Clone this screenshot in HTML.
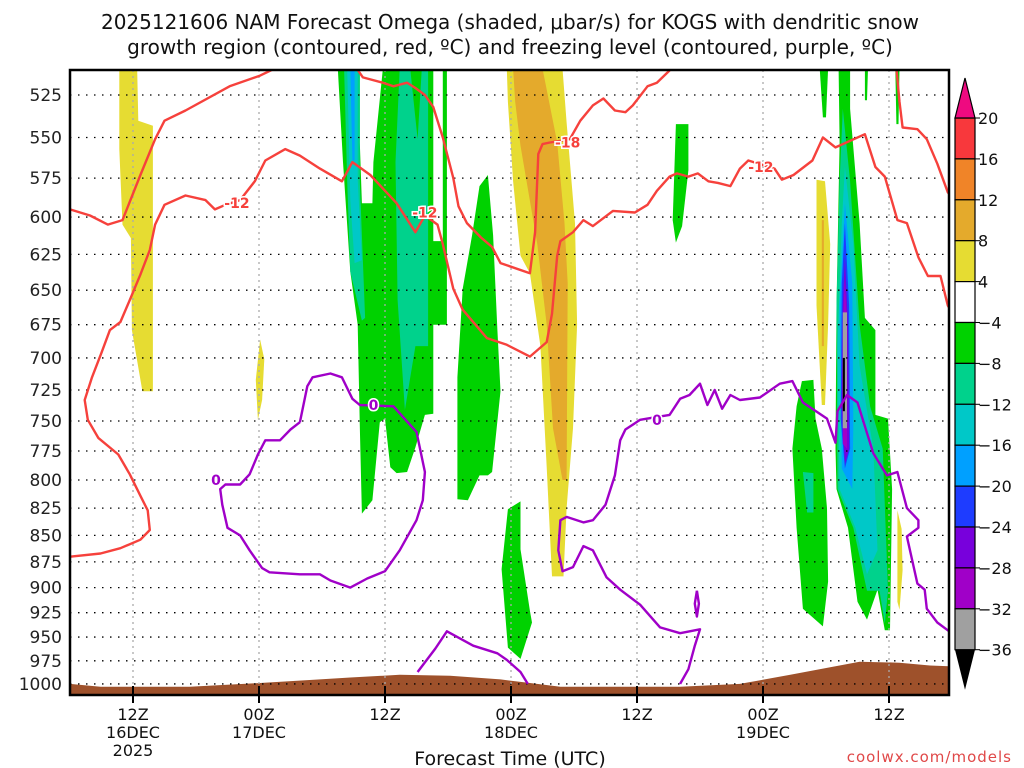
<!DOCTYPE html>
<html><head><meta charset="utf-8">
<style>
html,body{margin:0;padding:0;background:#fff;}
svg{display:block;font-family:"DejaVu Sans","Liberation Sans",sans-serif;}
</style></head>
<body>
<svg id="chart" width="1024" height="768" viewBox="0 0 1024 768">
<defs><clipPath id="plotclip"><rect x="70" y="70" width="879" height="625"/></clipPath></defs>
<text x="510" y="29" text-anchor="middle" font-size="20" fill="#111">2025121606 NAM Forecast Omega (shaded, μbar/s) for KOGS with dendritic snow</text>
<text x="510" y="54" text-anchor="middle" font-size="20" fill="#111">growth region (contoured, red, ºC) and freezing level (contoured, purple, ºC)</text>
<g id="plot" clip-path="url(#plotclip)"></g>
<g id="grid"></g>
<g id="lines" clip-path="url(#plotclip)"></g>
<rect x="70" y="70" width="879" height="625" fill="none" stroke="#000" stroke-width="2.5"/>
<g id="yaxis"></g>
<g id="xaxis"></g>
<g id="cbar"></g>
<text x="510" y="765" text-anchor="middle" font-size="19" fill="#111">Forecast Time (UTC)</text>
<text x="1012" y="762" text-anchor="end" font-size="15" fill="#e04848" letter-spacing="1">coolwx.com/models</text>
</svg>
<script>
// ---- data ----
const pressureTicks = [525,550,575,600,625,650,675,700,725,750,775,800,825,850,875,900,925,950,975,1000];
const timeTickHours = [6,18,30,42,54,66,78];
const timeTickLabels = [["12Z","16DEC","2025"],["00Z","17DEC"],["12Z"],["00Z","18DEC"],["12Z"],["00Z","19DEC"],["12Z"]];
const colorLevels = [20,16,12,8,4,-4,-8,-12,-16,-20,-24,-28,-32,-36];
const levelColors = ["#f8383c","#f08428","#e4aa2c","#e6dc32","#ffffff","#00d200","#00d28c","#00c8c8","#00a0ff","#1e3cff","#7800dc","#a000c8","#a0a0a0"];
const ground = [[0,1000],[2.9,1003],[11.4,1003],[18.1,999],[23.8,995],[26.7,993],[31.4,990],[36.2,991],[41,995],[43.8,999],[46.7,1003],[52.4,1003],[58.1,1003],[63.8,1000],[68.6,990],[72.4,982],[75.2,976],[79,977],[81.9,980],[84,981]];
// shaded omega regions: [colour key, polygon in (forecast hour, hPa)]
const shadeKeys = ["y","y","g","w","w","t","c","b","t","g","g","y","o","g","g","g","g","g","t","c","b","bl","pu","vi","gr","bk","g","t","y","o","y"];
const shadePolys = [
 [[4.7,511],[6.4,511],[6.5,540],[7.9,543],[7.9,726],[6.9,726],[5.9,679],[5.8,614],[5,605],[4.7,557]],
 [[18.1,686],[18.5,701],[18.3,733],[17.9,749],[17.7,717]],
 [[25.5,510],[26,565],[26.7,637],[27.4,675],[27.6,754],[27.8,830],[28.8,818],[29.5,751],[30,748],[30.5,789],[31.1,794],[32.1,793],[32.9,772],[33.8,745],[34.6,744],[34.6,675],[35.9,675],[35.9,510]],
 [[27.6,510],[29.8,510],[28.9,565],[28.8,591],[27.8,591],[27.6,553]],
 [[34.6,510],[35.5,510],[35.5,616],[34.6,616]],
 [[26.1,510],[27.6,510],[27.6,577],[28.1,670],[27.8,672],[26.7,637],[26.4,577]],
 [[26.4,510],[27.4,510],[27.4,576],[27.8,629],[27.1,631],[26.7,589]],
 [[26.7,510],[27.1,510],[27.1,564],[26.9,564]],
 [[31.4,510],[32.4,510],[33.1,551],[33.5,510],[34.1,510],[34.1,691],[32.9,691],[31.9,741],[31.2,657],[31,565]],
 [[39.8,573],[40.3,612],[40.7,679],[41,726],[40.2,793],[39.8,796],[39,796],[37.9,818],[36.9,817],[36.9,715],[37.4,649],[38.3,612],[39,580]],
 [[42.9,819],[42.9,863],[43.8,923],[44,935],[42.9,973],[41.7,961],[41.1,882],[41.7,826]],
 [[41.6,510],[46.9,510],[47.3,541],[48.1,604],[48.3,675],[47.9,756],[47.3,825],[47,889],[45.9,889],[45.4,789],[44.8,691],[43.8,638],[42.9,626],[42.2,577],[41.7,529]],
 [[42.2,510],[45,510],[46.4,553],[47.1,604],[47.4,645],[47.3,800],[46.9,800],[46,756],[45.4,675],[44.5,618],[42.9,555],[42.4,529]],
 [[57.7,542],[58.9,542],[58.9,570],[58.3,606],[57.7,617],[57.4,602]],
 [[71.4,510],[72.2,510],[72,538],[71.7,538]],
 [[75.7,510],[76,510],[75.9,528],[75.7,528]],
 [[78.6,510],[79,510],[78.9,542],[78.7,542]],
 [[73.2,510],[74.3,510],[74.3,533],[75.2,604],[75.7,670],[76.7,679],[76.7,745],[77.9,748],[78.3,808],[78.1,943],[77.6,943],[76.9,902],[75.9,932],[75,914],[74.1,843],[73,808],[72.9,773],[73,661],[73.3,553]],
 [[73.6,533],[74.3,577],[75.2,675],[76.2,738],[77.4,773],[77.9,903],[77.6,936],[77.1,903],[75.9,903],[74.6,843],[73.1,808],[73,661],[73.3,577]],
 [[73.8,568],[74.6,618],[75.2,706],[76.5,773],[76.9,864],[75.9,887],[74.8,843],[73.3,808],[73.1,691],[73.5,604]],
 [[73.8,591],[74.5,645],[74.6,756],[74.5,808],[73.5,790],[73.3,661]],
 [[73.8,604],[74.2,661],[74.3,773],[73.8,790],[73.4,748],[73.5,645]],
 [[73.8,626],[74.1,675],[74.2,773],[73.8,786],[73.5,738],[73.6,661]],
 [[73.8,643],[74,675],[74,773],[73.6,769],[73.6,675]],
 [[73.6,666],[74,666],[74,756],[73.6,756]],
 [[73.6,700],[73.8,700],[73.8,742],[73.6,742]],
 [[69.7,718],[70.8,717],[71,748],[71.6,773],[72.1,825],[72.2,894],[71.7,939],[69.8,921],[69.2,843],[68.8,773],[69.2,738]],
 [[69.8,793],[70.8,794],[70.8,829],[70.2,829]],
 [[71.1,576],[71.9,577],[72.4,618],[72.2,675],[71.9,737],[71.6,737],[71.1,661]],
 [[71.6,602],[71.8,602],[71.8,691],[71.6,691]],
 [[78.8,827],[79.2,844],[79.3,883],[79,922],[78.8,914]]
];
const shadeColorMap = {y:"#e6dc32",o:"#e4aa2c",g:"#00d200",t:"#00d28c",c:"#00c8c8",b:"#00a0ff",bl:"#1e3cff",pu:"#7800dc",vi:"#a000c8",gr:"#a0a0a0",bk:"#000000",w:"#ffffff"};
// temperature contours (red)
const redLineA = [[0,595],[1.9,599],[3.6,605],[5,602],[6.7,573],[8.1,551],[9,540],[11,534],[15.2,520],[18.1,514],[19.5,510]];
const redLineB = [[0,870],[2.9,867],[4.8,862],[6.7,854],[7.6,845],[7.4,827],[6.7,814],[5.7,795],[4.6,778],[2.7,764],[1.7,749],[1.4,733],[2.1,715],[3,696],[3.8,679],[4.8,673],[5.7,657],[6.7,639],[7.6,622],[8.1,605],[9,592],[11,586],[12.9,589],[13.8,595],[14.8,592],[16.2,589],[17.6,577],[18.6,564],[20.5,557],[21.9,561],[23.8,569],[25.9,577],[26.9,565],[28.6,573],[31.1,591],[32.9,610],[33.8,599],[35,605],[35.5,618],[36.5,649],[37.4,664],[39.7,685],[41.6,690],[43.8,699],[45.4,688],[45.9,667],[46.4,626],[46.7,616],[47.9,610],[48.9,602],[49.8,606],[51.7,596],[53.8,597],[55,592],[55.9,583],[57.1,574],[57.8,572],[58.9,574],[59.8,572],[60.8,577],[61.7,578],[62.9,580],[63.8,569],[64.6,564],[67.1,569],[67.8,576],[68.9,573],[70.7,564],[71.7,550],[72.9,556],[75.7,548],[76.7,568],[77.6,574],[78.8,602],[79.7,604],[80.8,627],[81.7,640],[82.9,640],[83.6,661],[84,666]];
const redLineC = [[23.8,510],[27.3,510],[27.9,515],[29.8,518],[30.8,520],[32.1,518],[32.9,521],[33.8,525],[34.6,532],[35.5,550],[36.5,575],[37,593],[37.8,604],[39.2,614],[40.2,620],[41,631],[43.8,638],[44.3,610],[44.6,560],[45,554],[45.7,553],[47.6,551],[48.6,540],[49.8,531],[50.8,527],[51.9,534],[52.9,535],[53.6,531],[55,520],[55.9,518],[57.3,510]];
const redLineD = [[78.7,510],[79,529],[79.3,544],[80.7,545],[81.6,551],[82.6,566],[83.6,584],[84,587]];
const redLabels = [["-12",15.9,591],["-12",33.8,597],["-18",47.4,553],["-12",65.8,568]];
// freezing level (purple)
const purpleLoop = [[21.9,751],[22.6,722],[23.1,715],[24.8,712],[25.9,715],[26.9,732],[27.6,737],[30.8,738],[33,759],[33.8,793],[33.6,818],[33,836],[31.4,864],[30,884],[28.3,891],[26.7,900],[24.8,893],[23.8,887],[21.9,887],[19,885],[18.3,881],[17.1,864],[16.2,850],[15,843],[14.5,822],[14.3,808],[14.8,804],[16.2,804],[17.1,795],[17.9,778],[18.6,766],[20,766],[21,757],[21.9,751]];
const purpleLow = [[33.1,987],[34.8,962],[35.9,944],[38.4,959],[40.7,967],[41.6,974],[42.9,987],[43.6,1000]];
const purpleRight = [[58.1,1000],[58.9,984],[59.5,959],[60,942],[58.1,946],[56.2,940],[54.3,917],[52.4,902],[51.1,890],[49.8,864],[48.9,860],[47.9,880],[46.9,884],[46.5,864],[46.7,836],[47.3,833],[48.9,838],[49.8,836],[51,822],[51.9,796],[52.4,766],[52.9,757],[54.3,749],[55.7,747],[57.1,745],[58.1,732],[59,729],[60,720],[60.7,737],[61.4,725],[62.1,740],[62.9,729],[63.8,733],[65.7,731],[67.6,720],[68.8,718],[69.8,735],[72.1,748],[72.9,768],[73.1,742],[74,729],[75,735],[76.5,777],[77.8,796],[78.8,793],[79.7,825],[80.8,836],[80.8,843],[79.7,851],[80.7,896],[81.4,902],[81.6,921],[82.6,935],[83.6,943],[84,946]];
const purpleSmall = [[59.7,903],[59.9,916],[59.7,929],[59.5,916],[59.7,903]];
const purpleLabels = [["0",13.9,800],["0",28.9,737],["0",55.9,749]];

// ---- scales ----
const X = h => 70 + h*10.5;
const Y = p => 95 + 914*Math.log(p/525);
const NS = "http://www.w3.org/2000/svg";
function mk(tag, attrs, parent){const e=document.createElementNS(NS,tag);for(const k in attrs)e.setAttribute(k,attrs[k]);parent.appendChild(e);return e;}
const pts = arr => arr.map(d=>X(d[0]).toFixed(1)+","+Y(d[1]).toFixed(1)).join(" ");

const plot=document.getElementById("plot"), grid=document.getElementById("grid"), lines=document.getElementById("lines");
shadePolys.forEach((poly,i)=>{
  const el=mk("polygon",{points:pts(poly),fill:shadeColorMap[shadeKeys[i]]},plot);
  
  
});
const gpoly = ground.concat([[84,1015],[0,1015]]);
const gEl=mk("polygon",{points:pts(gpoly),fill:"#9e512b"},plot);



// grid
pressureTicks.forEach(p=>{
  const l=mk("line",{x1:70,x2:949,y1:Y(p),y2:Y(p),stroke:"#000","stroke-width":1.3,"stroke-dasharray":"1.5 6.5"},grid);
  
  
});
timeTickHours.forEach(h=>{
  const l=mk("line",{x1:X(h),x2:X(h),y1:70,y2:695,stroke:"#aaa","stroke-width":1.3,"stroke-dasharray":"2 4"},grid);
  
  
});

// contour lines
[redLineA,redLineB,redLineC,redLineD].forEach(line=>{
  const el=mk("polyline",{points:pts(line),fill:"none",stroke:"#f6413c","stroke-width":2.4,"stroke-linejoin":"round"},lines);
  
  
});
[purpleLoop,purpleLow,purpleRight,purpleSmall].forEach(line=>{
  const el=mk("polyline",{points:pts(line),fill:"none",stroke:"#a000c8","stroke-width":2.4,"stroke-linejoin":"round"},lines);
  
  
});
redLabels.forEach(d=>{
  const t=mk("text",{x:X(d[1]),y:Y(d[2])+5,"text-anchor":"middle","font-size":14,"font-weight":"bold",fill:"#f6413c",stroke:"#fff","stroke-width":3,"paint-order":"stroke"},lines);
  t.textContent=d[0];
  
  
});
purpleLabels.forEach(d=>{
  const t=mk("text",{x:X(d[1]),y:Y(d[2])+5,"text-anchor":"middle","font-size":14,"font-weight":"bold",fill:"#a000c8",stroke:"#fff","stroke-width":3,"paint-order":"stroke"},lines);
  t.textContent=d[0];
  
  
});

// y axis
const yaxis=document.getElementById("yaxis");
pressureTicks.forEach(p=>{
  const t=mk("text",{x:62,y:Y(p)+6,"text-anchor":"end","font-size":17,fill:"#222"},yaxis);
  t.textContent=p;
  
  
});
// x axis
const xaxis=document.getElementById("xaxis");
timeTickHours.forEach((h,i)=>{
  const tk=mk("line",{x1:X(h),x2:X(h),y1:686,y2:703,stroke:"#000","stroke-width":2},xaxis);
  
  
  timeTickLabels[i].forEach((s,j)=>{
    const t=mk("text",{x:X(h),y:720+j*18,"text-anchor":"middle","font-size":16,fill:"#111"},xaxis);
    t.textContent=s;
    
    
  });
});
// colorbar
const cbar=document.getElementById("cbar");
const cellH = 40.9, cbTop = 118, cbX = 955, cbW = 20;
levelColors.forEach((c,i)=>{
  const r=mk("rect",{x:cbX,y:cbTop+i*cellH,width:cbW,height:cellH,fill:c,stroke:"#000","stroke-width":1.2},cbar);
  
  
});
const triTop=mk("polygon",{points:`${cbX},${cbTop} ${cbX+cbW},${cbTop} ${cbX+cbW/2},${cbTop-40}`,fill:"#ee0a80",stroke:"#000","stroke-width":1.2},cbar);


const bot = cbTop+levelColors.length*cellH;
const triBot=mk("polygon",{points:`${cbX},${bot} ${cbX+cbW},${bot} ${cbX+cbW/2},${bot+40}`,fill:"#000"},cbar);


colorLevels.forEach((v,i)=>{
  const yy=cbTop+i*cellH;
  const tk=mk("line",{x1:cbX+cbW,x2:cbX+cbW+5,y1:yy,y2:yy,stroke:"#000","stroke-width":1},cbar);
  
  
  const t=mk("text",{x:cbX+cbW+3,y:yy+6,"font-size":16,fill:"#111"},cbar);
  t.textContent=(v<0?"−"+(-v):v);
  
  
});
</script>
</body></html>
